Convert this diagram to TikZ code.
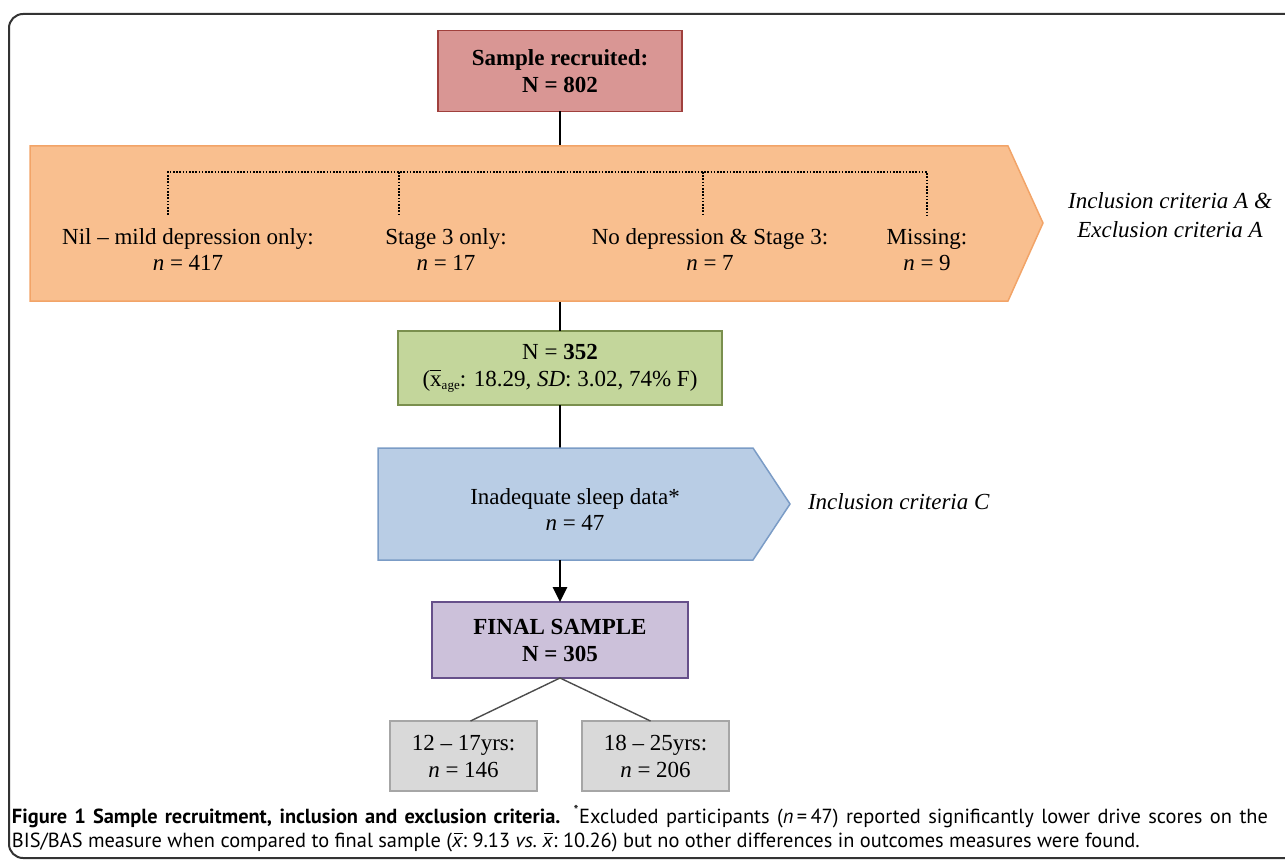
\documentclass[tikz,border=0pt]{standalone}
\usepackage{fontspec}
\setmainfont{Liberation Serif}
\newfontfamily\capfont{PT Sans}
\usetikzlibrary{arrows.meta,calc}
\definecolor{redfill}{HTML}{D99694}
\definecolor{reddraw}{HTML}{A0403D}
\definecolor{orfill}{HTML}{F9BF8F}
\definecolor{ordraw}{HTML}{F2A468}
\definecolor{grfill}{HTML}{C3D69B}
\definecolor{grdraw}{HTML}{7A8F4E}
\definecolor{blfill}{HTML}{B9CDE5}
\definecolor{bldraw}{HTML}{7B9CC6}
\definecolor{pufill}{HTML}{CCC1DA}
\definecolor{pudraw}{HTML}{66508A}
\definecolor{gyfill}{HTML}{D9D9D9}
\definecolor{gydraw}{HTML}{A6A6A6}
\definecolor{framecol}{HTML}{333333}
\newcommand{\xbarup}{\makebox[0pt][l]{\rule[15.5pt]{11pt}{1.2pt}}x}
\newcommand{\xbarit}{\makebox[0pt][l]{\hspace{1.5pt}\rule[13pt]{9pt}{1pt}}\textit{x}}
\begin{document}
\begin{tikzpicture}[x=1pt,y=-1pt,
  every node/.style={font=\fontsize{23}{27}\selectfont, inner sep=0pt, outer sep=0pt},
  box/.style={draw, line width=1.8pt, align=center},
  lbl/.style={anchor=base},
  conn/.style={line width=2.8pt, black},
  thinconn/.style={line width=1.4pt, black!70},
  dotline/.style={line width=1.8pt, dash pattern=on 1.6pt off 1.6pt, black},
  capt/.style={anchor=base west, font=\capfont\fontsize{20.4}{24}\selectfont}]
\useasboundingbox (0,0) rectangle (1285,861);
% frame
\draw[line width=2pt, framecol, rounded corners=14] (9,858) -- (9,14) -- (1320,14) -- (1320,858) -- cycle;
% boxes
\node[box, fill=redfill, draw=reddraw, minimum width=244, minimum height=81] (red) at (560,71) {\textbf{Sample recruited:}\\\textbf{N = 802}};
\node[box, fill=grfill, draw=grdraw, minimum width=324, minimum height=74] (green) at (560,368) {N = \textbf{352}\\(\xbarup\raisebox{-3pt}{\fontsize{13}{13}\selectfont age}: 18.29, \textit{SD}: 3.02, 74\% F)};
\node[box, fill=pufill, draw=pudraw, minimum width=256, minimum height=76] (purple) at (560,640) {\textbf{FINAL SAMPLE}\\\textbf{N = 305}};
\node[box, fill=gyfill, draw=gydraw, line width=1.3pt, minimum width=147, minimum height=70] (g1) at (463.5,756) {12 – 17yrs:\\\textit{n} = 146};
\node[box, fill=gyfill, draw=gydraw, line width=1.3pt, minimum width=147, minimum height=70] (g2) at (655.5,756) {18 – 25yrs:\\\textit{n} = 206};
% connector red -> green (partly hidden by orange band)
\draw[conn] (red.south) -- (green.north);
% orange band
\draw[fill=orfill, draw=ordraw, line width=1.5pt, line join=miter] (30,146) -- (1008,146) -- (1043,223) -- (1008,301) -- (30,301) -- cycle;
\draw[dotline] (168,215) -- (168,172) -- (927,172) -- (927,215);
\draw[dotline] (399,172) -- (399,215);
\draw[dotline] (703,172) -- (703,215);
\node[lbl] (o1a) at (188,244) {Nil – mild depression only:};
\node[lbl] (o1b) at (188,270) {\textit{n} = 417};
\node[lbl] (o2a) at (446,244) {Stage 3 only:};
\node[lbl] (o2b) at (446,270) {\textit{n} = 17};
\node[lbl] (o3a) at (710,244) {No depression \& Stage 3:};
\node[lbl] (o3b) at (710,270) {\textit{n} = 7};
\node[lbl] (o4a) at (927,244) {Missing:};
\node[lbl] (o4b) at (927,270) {\textit{n} = 9};
\node[lbl] (critA1) at (1170,209) {\textit{Inclusion criteria A \&}};
\node[lbl] (critA2) at (1170,237) {\textit{Exclusion criteria A}};
% blue band
\coordinate (bluetop) at (560,448);
\coordinate (bluebot) at (560,560);
\draw[conn] (green.south) -- (bluetop);
\draw[fill=blfill, draw=bldraw, line width=1.5pt, line join=miter] (378,448) -- (753,448) -- (790,504) -- (753,560) -- (378,560) -- cycle;
\node[lbl] (b1) at (575,504) {Inadequate sleep data*};
\node[lbl] (b2) at (575,530) {\textit{n} = 47};
\node[lbl, anchor=base west] (critC) at (808,509) {\textit{Inclusion criteria C}};
\draw[conn, -{Triangle[length=15pt,width=14pt]}] (bluebot) -- (purple.north);
\draw[thinconn] (purple.south) -- ($(g1.north)+(7,0)$);
\draw[thinconn] (purple.south) -- ($(g2.north)+(-5,0)$);
% caption
\node[capt] (cap1) at (12,823) {\makebox[1256pt][s]{\textbf{Figure 1 Sample recruitment, inclusion and exclusion criteria.} \textsuperscript{*}Excluded participants (\textit{n}\,=\,47) reported significantly lower drive scores on the}};
\node[capt] (cap2) at (12,847) {BIS/BAS measure when compared to final sample (\xbarit:~9.13 \textit{vs.}\ \xbarit:~10.26) but no other differences in outcomes measures were found.};
\end{tikzpicture}
\end{document}
